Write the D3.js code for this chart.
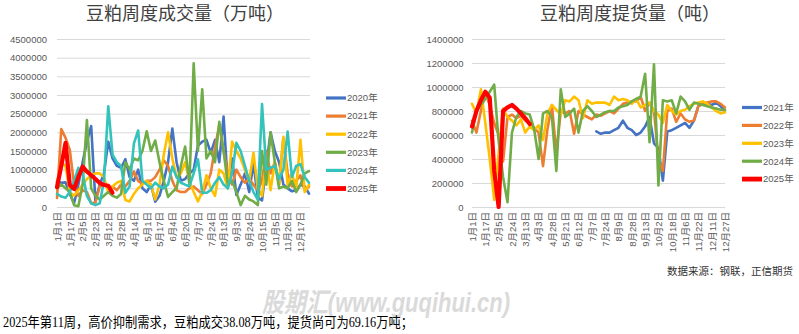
<!DOCTYPE html>
<html>
<head>
<meta charset="utf-8">
<script src="https://cdn.jsdelivr.net/npm/d3@7"></script>
<style>
  html, body { margin: 0; padding: 0; background: #fff; }
  svg { display: block; }
  text { font-family: "Liberation Sans", "Noto Sans CJK SC", sans-serif; }
</style>
</head>
<body>
<svg id="chart" width="799" height="334"></svg>
<script>
// All series values are in 万吨 (10,000 t); the axes show tonnes.
const UNIT = 10000;

// ---- Weekly soybean-meal trading volume ----
const volumeTickLabels = ["1月1日","1月17日","2月5日","2月23日","3月12日","3月28日","4月14日","5月1日","5月17日","6月4日",
  "6月20日","7月7日","7月24日","8月13日","9月3日","9月24日","10月15日","11月5日","11月26日","12月17日"];
const volumeYears = ["2020年","2021年","2022年","2023年","2024年","2025年"];
const volume2020 = [68,65,66,35,10,60,120,175,217,15, 60,90,175,130,110,105,128,80,70,100,
  50,40,60,14,30,70,120,210,120,70, 75,90,100,165,175,180,145,180,120,242,
  60,130,32,60,90,40,118,25,18,110, 200,150,120,60,50,42,45,60,55,36];
const volume2021 = [24,209,185,153,60,30,45,40,10,12, 55,60,50,55,45,60,55,70,95,70,
  62,70,70,80,100,125,110,70,45,40, 40,50,55,45,35,60,90,160,220,150,
  90,60,100,80,65,75,60,45,70,150, 90,120,60,185,90,55,70,85,45,55];
const volume2022 = [65,120,110,40,30,45,60,75,85,90, 90,80,40,55,65,70,19,15,35,50,
  60,70,60,20,60,140,200,130,80,90, 120,70,40,15,40,85,50,30,100,90,
  50,175,150,130,100,70,145,50,30,130, 45,120,60,188,60,90,50,180,40,60];
const volume2023 = [50,60,50,40,5,2,60,233,50,30, 20,30,40,30,25,35,120,100,130,125,
  150,203,150,178,120,70,27,40,50,110, 162,60,385,150,315,130,150,120,228,150,
  60,70,40,5,30,20,15,5,150,60, 200,120,50,55,50,70,40,60,90,96];
const volume2024 = [35,28,25,40,70,105,90,30,10,5, 10,70,270,140,120,110,38,55,170,205,
  70,60,50,65,55,50,60,108,80,65, 60,55,90,128,38,38,45,65,80,60,
  50,90,172,150,110,70,40,20,276,100, 105,110,75,100,202,80,110,115,80,65];
const volume2025 = [53,110,172,59,48,80,108,95,85,75,64,59,57,38.08];
const volumeTicks = [0,500000,1000000,1500000,2000000,2500000,3000000,3500000,4000000,4500000];

// ---- Weekly soybean-meal pick-up volume ----
const pickupTickLabels = ["1月1日","1月17日","2月5日","2月24日","3月13日","4月3日","4月28日","5月21日","6月12日","7月7日",
  "7月24日","8月9日","8月28日","9月13日","10月2日","10月18日","11月6日","11月22日","12月11日","12月27日"];
const pickupYears = ["2021年","2022年","2023年","2024年","2025年"];
const pickup2021 = [null,null,null,null,null,null,null,null,null,null, null,null,null,null,null,null,null,null,null,null,
  null,null,null,null,null,null,null,null,63,61, 62,62,64,66,72,66,64,60,62,67,
  75,53,49,22,63,64,66,68,70,66, 72,84,86,86,85,87,84,80];
const pickup2022 = [72,62,80,95,85,70,60,38,75,77, 74,76,72,70,66,62,34,65,85,45,
  80,78,80,61,80,77,75,73,77,76, 78,80,78,82,86,87,88,88,92,80,
  87,80,40,30,80,82,71,78,73,71, 72,84,86,87,88,88,86,83];
const pickup2023 = [86,78,98,70,40,6,45,82,75,72, 68,73,62,67,64,68,56,78,85,81,
  77,89,88,92,89,74,89,86,87,87, 87,85,92,89,90,89,86,90,83,85,
  87,80,77,70,85,80,77,80,81,84, 86,87,88,86,83,80,78,79];
const pickup2024 = [62,80,85,90,96,102,55,25,4,62, 75,80,78,77,65,40,78,80,75,30,
  98,75,78,82,62,80,84,80,75,77, 79,80,80,83,84,85,88,90,92,111,
  54,119,18,89,88,89,78,92,88,81, 87,86,85,84,83,82,81,81];
const pickup2025 = [67,80,89,96,91,30,0,80,83,85,82,78,74,69.16];
const pickupTicks = [0,200000,400000,600000,800000,1000000,1200000,1400000];

const COLORS = {
  "2020年": "#4472C4", "2021年": "#ED7D31", "2022年": "#FFC000",
  "2023年": "#70AD47", "2024年": "#33C3BA", "2025年": "#FF0000"
};
const PICKUP_COLORS = {
  "2021年": "#4472C4", "2022年": "#ED7D31", "2023年": "#FFC000",
  "2024年": "#70AD47", "2025年": "#FF0000"
};

const svg = d3.select("#chart");
svg.append("rect").attr("width", 799).attr("height", 334).attr("fill", "#fff");

function drawPanel(cfg) {
  const g = svg.append("g");
  const x = d3.scalePoint().domain(d3.range(cfg.count)).range([cfg.x0, cfg.x1]);
  const y = d3.scaleLinear().domain([0, d3.max(cfg.yTicks)]).range([cfg.y0, cfg.yTop]);

  // title
  g.append("text")
    .attr("x", cfg.titleX).attr("y", 20)
    .attr("text-anchor", "middle")
    .attr("fill", "#404040")
    .style("font-family", "'Noto Sans CJK SC', sans-serif")
    .style("font-size", "18px")
    .text(cfg.title);

  // value axis with gridlines
  const yAxis = g.append("g")
    .attr("transform", `translate(${cfg.x0},0)`)
    .call(d3.axisLeft(y).tickValues(cfg.yTicks).tickFormat(d3.format("d"))
      .tickSize(-(cfg.gridRight - cfg.x0)).tickPadding(cfg.yPad));
  yAxis.select(".domain").remove();
  yAxis.selectAll(".tick line").attr("stroke", "#d9d9d9").attr("stroke-width", 1);
  yAxis.selectAll(".tick text").attr("fill", "#595959").style("font-size", "9.5px");

  // category axis with rotated date labels
  const xAxis = g.append("g")
    .attr("transform", `translate(0,${cfg.y0})`)
    .call(d3.axisBottom(x).tickValues(d3.range(0, cfg.count, 3))
      .tickFormat(i => cfg.tickLabels[i / 3]).tickSize(0));
  xAxis.select(".domain").remove();
  xAxis.selectAll(".tick text")
    .attr("x", -5).attr("y", 0).attr("dy", "0.35em")
    .attr("transform", "rotate(-90)")
    .style("text-anchor", "end")
    .style("font-size", "9.5px")
    .attr("fill", "#595959");

  // series lines
  const line = d3.line()
    .defined(d => d != null)
    .x((d, i) => x(i))
    .y(d => y(d * UNIT));
  cfg.series.forEach(s => {
    g.append("path")
      .datum(s.values)
      .attr("fill", "none")
      .attr("stroke", s.color)
      .attr("stroke-width", s.width)
      .attr("stroke-linejoin", "round")
      .attr("stroke-linecap", "round")
      .attr("d", line);
  });

  // legend
  cfg.series.forEach((s, k) => {
    const ly = cfg.legendY + k * cfg.legendStep;
    g.append("line")
      .attr("x1", cfg.legendX).attr("x2", cfg.legendX + 20)
      .attr("y1", ly).attr("y2", ly)
      .attr("stroke", s.color).attr("stroke-width", s.width + 0.6);
    g.append("text")
      .attr("x", cfg.legendX + 21).attr("y", ly).attr("dy", "0.35em")
      .attr("fill", "#595959").style("font-size", "9.5px")
      .text(s.name);
  });
}

drawPanel({
  title: "豆粕周度成交量（万吨）", titleX: 185,
  count: 60, x0: 57, x1: 309, gridRight: 310,
  y0: 207, yTop: 39, yTicks: volumeTicks, yPad: 10,
  tickLabels: volumeTickLabels,
  legendX: 326, legendY: 98, legendStep: 18.1,
  series: [volume2020, volume2021, volume2022, volume2023, volume2024, volume2025].map((v, k) => ({
    name: volumeYears[k], values: v, color: COLORS[volumeYears[k]], width: k === 5 ? 4.2 : 2.6
  }))
});

drawPanel({
  title: "豆粕周度提货量（吨）", titleX: 630,
  count: 58, x0: 472, x1: 725, gridRight: 725,
  y0: 207, yTop: 39, yTicks: pickupTicks, yPad: 8.5,
  tickLabels: pickupTickLabels,
  legendX: 742, legendY: 107.5, legendStep: 17.9,
  series: [pickup2021, pickup2022, pickup2023, pickup2024, pickup2025].map((v, k) => ({
    name: pickupYears[k], values: v, color: PICKUP_COLORS[pickupYears[k]], width: k === 4 ? 4.2 : 2.6
  }))
});

// source note
svg.append("text")
  .attr("x", 793).attr("y", 275)
  .attr("text-anchor", "end")
  .attr("fill", "#333")
  .style("font-family", "'Noto Sans CJK SC', sans-serif")
  .style("font-size", "10.5px")
  .text("数据来源：钢联，正信期货");

// site watermark
svg.append("text")
  .attr("x", 262).attr("y", 312)
  .attr("fill", "#dadada")
  .attr("textLength", 248).attr("lengthAdjust", "spacingAndGlyphs")
  .style("font-family", "'Liberation Sans', 'Noto Sans CJK SC', sans-serif")
  .style("font-weight", "bold").style("font-style", "italic")
  .style("font-size", "27px")
  .text("股期汇(www.guqihui.cn)");

// commentary line
svg.append("text")
  .attr("x", 3).attr("y", 327)
  .attr("fill", "#000")
  .attr("textLength", 410).attr("lengthAdjust", "spacingAndGlyphs")
  .style("font-family", "'Liberation Serif', 'Noto Sans CJK SC', serif")
  .style("font-size", "14px")
  .text("2025年第11周，高价抑制需求，豆粕成交38.08万吨，提货尚可为69.16万吨；");
</script>
</body>
</html>
